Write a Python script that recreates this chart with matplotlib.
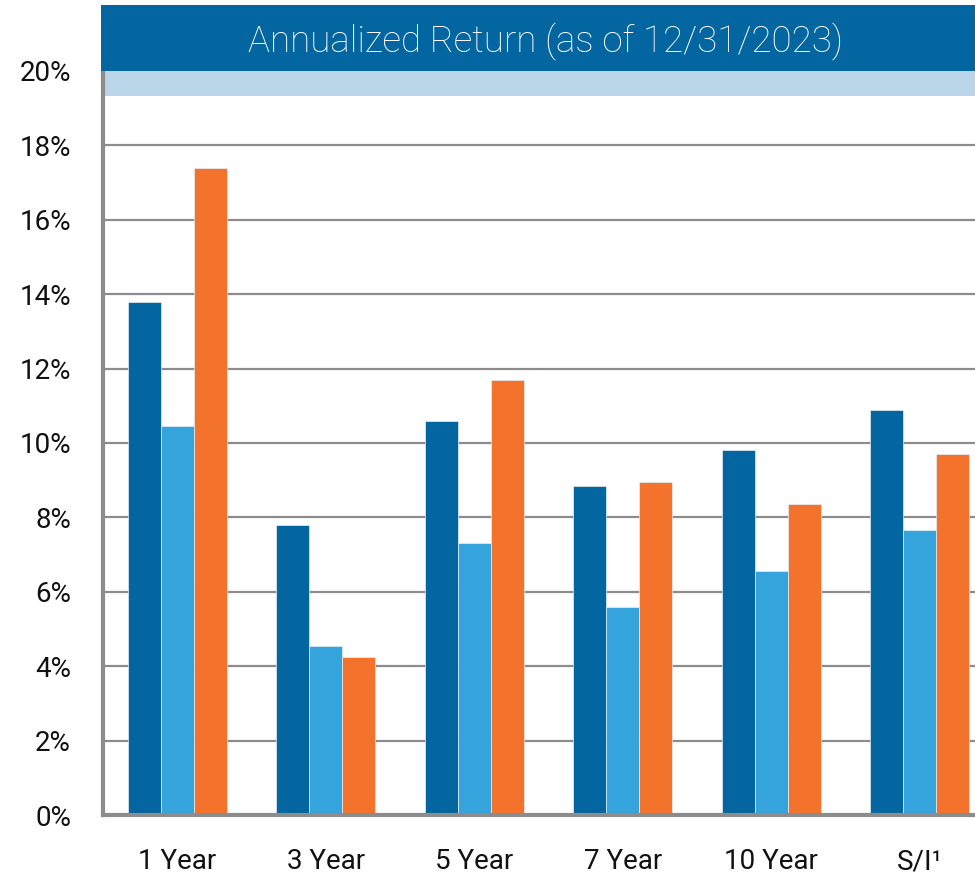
import numpy as np
import matplotlib.pyplot as plt
from matplotlib.patches import Rectangle

# DATA
periods = ["1 Year", "3 Year", "5 Year", "7 Year", "10 Year", "S/I\u00b9"]
fund = [13.8, 7.8, 10.6, 8.85, 9.8, 10.9]
benchmark_a = [10.45, 4.55, 7.3, 5.6, 6.55, 7.65]
benchmark_b = [17.4, 4.25, 11.7, 8.95, 8.35, 9.7]
y_ticks = [0, 2, 4, 6, 8, 10, 12, 14, 16, 18, 20]

# STYLE
DARK_BLUE = "#0366a1"
LIGHT_BLUE = "#35a4dc"
ORANGE = "#f3722c"
GRID = "#8c8c8c"
BAND = "#bbd6e8"
FONT = ["Roboto", "DejaVu Sans"]

fig = plt.figure(figsize=(9.75, 8.75), dpi=100)
fig.set_facecolor("white")

# axes spills past the right edge, like the original crop
ax = fig.add_axes([103 / 975, 60 / 875, 891 / 975, 744 / 875])

x = np.arange(len(periods))
w = 0.222
for off, vals, col in [(-w, fund, DARK_BLUE), (0, benchmark_a, LIGHT_BLUE), (w, benchmark_b, ORANGE)]:
    ax.bar(x + off, vals, width=w, color=col, edgecolor="#e6eef5", linewidth=0.5, zorder=3)

ax.set_xlim(-0.5, len(periods) - 0.5)
ax.set_ylim(0, 20)
ax.set_yticks(y_ticks)
ax.set_yticklabels([f"{t}%" for t in y_ticks], family=FONT, fontsize=20)
ax.set_xticks(x)
ax.set_xticklabels(periods, family=FONT, fontsize=20)
ax.tick_params(axis="y", length=0, pad=23, colors="#111111")
ax.tick_params(axis="x", length=0, pad=24, colors="#111111")

for t in y_ticks[1:-1]:
    ax.axhline(t, color=GRID, linewidth=1.6, zorder=1)

# light band under the title banner
ax.axhspan(19.33, 20, color=BAND, zorder=2, linewidth=0)

for side in ["top", "right"]:
    ax.spines[side].set_visible(False)
for side in ["left", "bottom"]:
    ax.spines[side].set_color(GRID)
    ax.spines[side].set_linewidth(3)
    ax.spines[side].set_zorder(4)

# title banner
fig.patches.append(Rectangle((101 / 975, 804 / 875), 1, 66 / 875, transform=fig.transFigure,
                             facecolor=DARK_BLUE, edgecolor="none"))
fig.text(545 / 975, 834 / 875, "Annualized Return (as of 12/31/2023)", ha="center", va="center",
         color="white", fontsize=26.5, family=FONT, fontweight="light")

plt.savefig("out.png", dpi=100)
